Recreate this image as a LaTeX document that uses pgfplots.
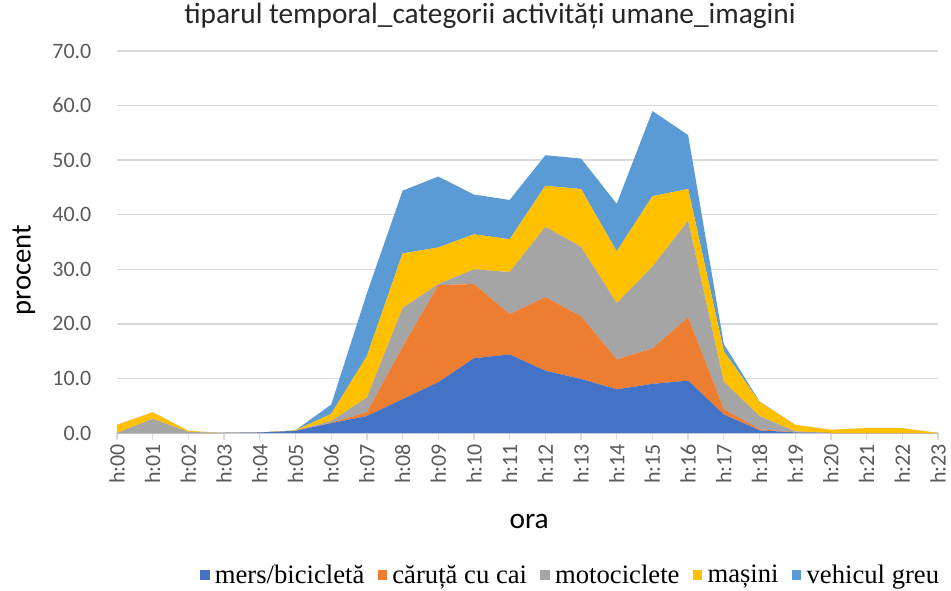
\documentclass[border=0pt]{standalone}
\usepackage{fontspec}
\setmainfont{Carlito}
\newfontfamily\legfont{Liberation Serif}
\usepackage{pgfplots}
\usepackage{pgfplotstable}
\pgfplotsset{compat=1.18}
\definecolor{cMers}{HTML}{4472C4}
\definecolor{cCar}{HTML}{ED7D31}
\definecolor{cMoto}{HTML}{A5A5A5}
\definecolor{cMas}{HTML}{FFC000}
\definecolor{cVeh}{HTML}{5B9BD5}
\definecolor{cGrid}{HTML}{D9D9D9}
\definecolor{cTick}{HTML}{595959}
\pgfplotstableread{
x mers car moto mas veh
0 0 0 0 1.5 0
1 0 0 2.6 1.2 0
2 0 0 0.2 0.2 0
3 0 0 0 0 0
4 0.1 0 0 0 0
5 0.4 0 0 0.1 0
6 1.8 0.1 0.3 1.3 1.7
7 3.1 0.7 2.7 7.6 11.5
8 6.2 9.6 7.1 10.0 11.5
9 9.3 17.8 0.2 6.7 13.0
10 13.7 13.6 2.7 6.4 7.3
11 14.4 7.4 7.7 6.0 7.2
12 11.4 13.5 12.9 7.5 5.6
13 9.9 11.5 12.7 10.6 5.6
14 8.0 5.5 10.3 9.5 8.7
15 9.0 6.5 15.0 12.9 15.6
16 9.6 11.6 17.7 5.8 9.9
17 3.4 1.0 5.0 5.6 1.3
18 0.5 0.2 2.4 2.6 0.1
19 0.1 0 0.2 1.2 0
20 0 0 0 0.6 0
21 0 0 0 0.9 0
22 0 0 0 0.9 0
23 0 0 0 0 0
}\datatable
\begin{document}
\begin{tikzpicture}
\useasboundingbox (-87.75pt,-117.75pt) rectangle (625.5pt,324.75pt);
\begin{axis}[
  at={(0,0)}, anchor=south west,
  scale only axis, width=615.75pt, height=286.5pt,
  xmin=0, xmax=23, ymin=0, ymax=70,
  stack plots=y,
  xtick={0,...,23},
  xticklabels={h:00,h:01,h:02,h:03,h:04,h:05,h:06,h:07,h:08,h:09,h:10,h:11,h:12,h:13,h:14,h:15,h:16,h:17,h:18,h:19,h:20,h:21,h:22,h:23},
  ytick={0,10,...,70},
  /pgf/number format/.cd, fixed, fixed zerofill, precision=1, assume math mode=true,
  /pgfplots/.cd,
  axis lines*=left,
  x axis line style={draw=cGrid, line width=1pt, -},
  y axis line style={draw=none},
  ytick style={draw=none},
  xtick style={draw=cGrid, line width=1pt},
  tick align=outside,
  major tick length=5pt,
  ymajorgrids,
  grid style={draw=cGrid, line width=1pt},
  ticklabel style={font=\fontsize{16.5}{20}\selectfont, text=cTick},
  yticklabel style={anchor=east, inner sep=0pt, xshift=-14pt},
  xticklabel style={rotate=90, anchor=east, inner sep=0pt, xshift=-3pt},
  title={tiparul temporal\_categorii activități umane\_imagini},
  title style={at={(0.4543,1.0707)}, anchor=center, font=\fontsize{22}{26}\selectfont, text=black!85},
  xlabel={ora},
  xlabel style={at={(0.502,-0.2304)}, anchor=center, font=\fontsize{22}{26}\selectfont},
  ylabel={procent},
  ylabel style={at={(-0.1135,0.427)}, anchor=center, font=\fontsize{21.5}{25}\selectfont},
  legend columns=5,
  legend style={draw=none, fill=none, at={(0.553,-0.372)}, anchor=center,
    font=\legfont\fontsize{20}{23}\selectfont,
    /tikz/every even column/.append style={column sep=8pt},
    /tikz/every odd column/.append style={column sep=2pt}},
  legend image code/.code={\fill[#1] (0pt,-3.5pt) rectangle (7pt,3.5pt);},
]
\addplot[fill=cMers, draw=none] table[x=x, y=mers] {\datatable} \closedcycle;
\addplot[fill=cCar, draw=none] table[x=x, y=car] {\datatable} \closedcycle;
\addplot[fill=cMoto, draw=none] table[x=x, y=moto] {\datatable} \closedcycle;
\addplot[fill=cMas, draw=none] table[x=x, y=mas] {\datatable} \closedcycle;
\addplot[fill=cVeh, draw=none] table[x=x, y=veh] {\datatable} \closedcycle;
\legend{mers/bicicletă, căruță cu cai, motociclete, mașini, vehicul greu}
\end{axis}
\end{tikzpicture}
\end{document}
